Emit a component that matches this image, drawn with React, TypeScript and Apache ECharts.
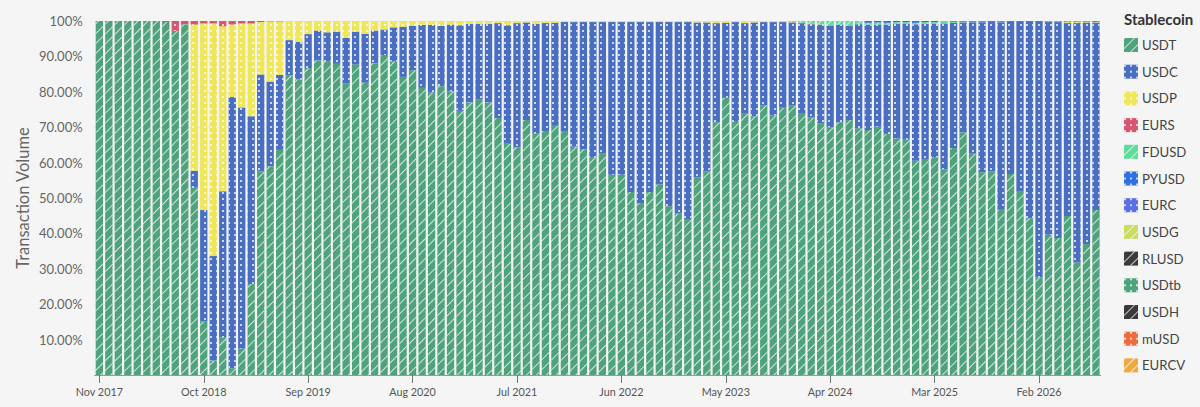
import React, { useEffect, useRef } from "react";
import * as echarts from "echarts";

const categories = [
  "Nov 2017","Dec 2017","Jan 2018","Feb 2018","Mar 2018","Apr 2018","May 2018","Jun 2018","Jul 2018","Aug 2018","Sep 2018",
  "Oct 2018","Nov 2018","Dec 2018","Jan 2019","Feb 2019","Mar 2019","Apr 2019","May 2019","Jun 2019","Jul 2019","Aug 2019",
  "Sep 2019","Oct 2019","Nov 2019","Dec 2019","Jan 2020","Feb 2020","Mar 2020","Apr 2020","May 2020","Jun 2020","Jul 2020",
  "Aug 2020","Sep 2020","Oct 2020","Nov 2020","Dec 2020","Jan 2021","Feb 2021","Mar 2021","Apr 2021","May 2021","Jun 2021",
  "Jul 2021","Aug 2021","Sep 2021","Oct 2021","Nov 2021","Dec 2021","Jan 2022","Feb 2022","Mar 2022","Apr 2022","May 2022",
  "Jun 2022","Jul 2022","Aug 2022","Sep 2022","Oct 2022","Nov 2022","Dec 2022","Jan 2023","Feb 2023","Mar 2023","Apr 2023",
  "May 2023","Jun 2023","Jul 2023","Aug 2023","Sep 2023","Oct 2023","Nov 2023","Dec 2023","Jan 2024","Feb 2024","Mar 2024",
  "Apr 2024","May 2024","Jun 2024","Jul 2024","Aug 2024","Sep 2024","Oct 2024","Nov 2024","Dec 2024","Jan 2025","Feb 2025",
  "Mar 2025","Apr 2025","May 2025","Jun 2025","Jul 2025","Aug 2025","Sep 2025","Oct 2025","Nov 2025","Dec 2025","Jan 2026",
  "Feb 2026","Mar 2026","Apr 2026","May 2026","Jun 2026","Jul 2026","Aug 2026",
].slice(0, 106);

const USDT = [
  100,100,100,100,100,100,100,99.7,97.2,99.1,52.9,
  15.1,4.1,10.6,1.9,7.5,25.7,57.5,59,63.6,84.6,83.5,
  86.7,88.9,88.5,87.9,82.3,87.7,82.6,88.1,90.4,88.6,84.2,
  86.1,81.1,79.8,81.6,80.1,74.6,77,77.8,77,72.6,65.3,
  64.3,72,68.2,68.9,70.4,68.7,64.5,63.8,61.4,62.5,56.6,
  56.6,51.7,48.6,51.7,53.8,47.7,45.6,44.1,55.8,57.5,71.4,
  78.3,71.5,73.8,73.1,76.2,73.4,75.5,76.1,74,72.7,71.1,
  70,71.4,72,69.7,69.2,70.1,68.1,66.8,66.5,60.5,60.8,
  61.5,58.1,64.1,68.6,62.5,57.3,57.5,46.7,56.8,51.8,44.3,
  27.6,39.6,38.7,44.9,31.8,37,46.6,
];
const USDC = [
  0,0,0,0,0,0,0,0,0,0,4.8,
  31.5,29.5,41.3,76.6,68.1,47.4,27.4,23.9,21.2,10,10.6,
  9.6,8.4,8.3,9.1,12.9,9.3,13.8,9.2,7.2,9.6,14.2,
  12.6,17.8,19.1,17,18.9,24.2,22.2,21.4,22.2,26.8,33.5,
  35.1,27.6,31,30.5,29.1,31,35.2,35.9,38.3,37.2,43.1,
  43.1,48,51.1,48,45.9,52,54.1,55.6,43.8,42.1,28,
  21.2,28.2,25.6,26.5,23.5,26.3,24.2,23.5,25.4,26.4,27.9,
  28.6,27.6,26.7,29.4,29.8,28.9,30.9,32.5,32.8,38.6,38.4,
  37.7,41.2,35.4,31,37.1,42.3,41.9,52.9,42.9,47.9,55.4,
  72.1,60.1,61,54.5,67.6,62.6,53,
];
const USDP = [
  0,0,0,0,0,0,0,0,0,0,41.3,
  52.7,65.7,46.6,20.5,23.7,26.2,14.8,17,15.1,5.4,5.9,
  3.7,2.7,3.2,3,4.8,3,3.6,2.7,2.4,1.8,1.6,
  1.3,1.1,1.1,1.4,1,1.2,0.8,0.8,0.8,0.6,1.2,
  0.6,0.4,0.8,0.6,0.5,0.3,0.3,0.3,0.3,0.3,0.3,
  0.3,0.3,0.3,0.3,0.3,0.3,0.3,0.3,0.4,0.4,0.6,
  0.5,0.3,0.6,0.4,0.3,0.3,0.2,0.1,0.1,0.1,0.1,
];
const EURS = [0,0,0,0,0,0,0,0.3,2.8,0.9,1,0.7,0.7,1.5,1,0.7,0.7,0.3,0.1,0.1];
const FDUSD = [0.1,0.3,0.5,0.8,0.9,1.4,1,1.3,0.9,0.5,0.6,0.5,0.4,0.4,0.4,0.5,0.5,0.7,0.3,0.1];
const FDUSD_START = 72;
const PYUSD = [0.5,0.4,0.5,0.3,0.3,0.5,0.3,0.3,0,0.2,0.1,0.2,0.2,0,0.2];
const PYUSD_START = 81;
const EURC = [0.2,0.2,0.2,0.6,0.2,0.3,0.3,0.3,0.3];
const EURC_START = 91;
const USDG = [0.2,0.2,0.5,0.5,0.2,0.2];
const USDG_START = 100;
const RLUSD = [0.1,0.1,0.1,0.1,0.1,0.1];
const RLUSD_START = 100;
const USDtb = [0.1];
const USDtb_START = 104;
const USDH = [0.1];
const USDH_START = 105;
const mUSD: number[] = [];
const EURCV: number[] = [];

const from = (start: number, vals: number[]) => [...Array(start).fill(0), ...vals];

const HATCH = {
  symbol: "rect",
  symbolSize: 1,
  rotation: -Math.PI / 4,
  dashArrayX: [1, 0],
  dashArrayY: [1, 6],
  color: "rgba(255,255,255,0.72)",
};
const DOTS = {
  symbol: "rect",
  symbolSize: 1,
  rotation: 0,
  dashArrayX: [1.2, 3.5],
  dashArrayY: [1.2, 3.5],
  color: "rgba(255,255,255,0.72)",
};

const defs: [string, number[], string, any][] = [
  ["USDT", USDT, "#4fa37c", HATCH],
  ["USDC", USDC, "#4a6fc2", DOTS],
  ["USDP", USDP, "#f0e65a", DOTS],
  ["EURS", EURS, "#d6566e", DOTS],
  ["FDUSD", from(FDUSD_START, FDUSD), "#5fdc99", HATCH],
  ["PYUSD", from(PYUSD_START, PYUSD), "#2f6fe0", DOTS],
  ["EURC", from(EURC_START, EURC), "#5a6fe6", DOTS],
  ["USDG", from(USDG_START, USDG), "#cbdc62", HATCH],
  ["RLUSD", from(RLUSD_START, RLUSD), "#3a3a3a", HATCH],
  ["USDtb", from(USDtb_START, USDtb), "#4fa37c", DOTS],
  ["USDH", from(USDH_START, USDH), "#3a3a3a", HATCH],
  ["mUSD", mUSD, "#ef6a3c", DOTS],
  ["EURCV", EURCV, "#f0a93c", HATCH],
];

export default function App() {
  const ref = useRef<HTMLDivElement>(null);
  useEffect(() => {
    document.body.style.margin = "0";
    document.body.style.background = "#f5f5f5";
    const chart = echarts.init(ref.current!, undefined, { renderer: "svg" });
    chart.setOption({
      animation: false,
      backgroundColor: "#f5f5f5",
      textStyle: { fontFamily: "Lato" },
      title: {
        text: "Stablecoin",
        left: 1119,
        top: 6,
        textStyle: { fontFamily: "Lato", fontSize: 15, fontWeight: "bold", color: "#333" },
      },
      legend: {
        orient: "vertical",
        left: 1119,
        top: 33,
        itemWidth: 14,
        itemHeight: 14,
        itemGap: 12.7,
        selectedMode: false,
        icon: "rect",
        textStyle: { fontFamily: "Lato", fontSize: 13.2, color: "#444", padding: [0, 0, 0, -1] },
        data: defs.map((d) => d[0]),
      },
      grid: { left: 94.6, right: 99.3, top: 21, height: 354 },
      xAxis: {
        type: "category",
        data: categories,
        axisLine: { show: true, lineStyle: { color: "#999", width: 1 } },
        axisTick: { show: true, alignWithLabel: true, interval: 10, length: 8, lineStyle: { color: "#777" } },
        axisLabel: { interval: 10, color: "#555", fontSize: 10.8, margin: 10.5, fontFamily: "Lato" },
      },
      yAxis: {
        type: "value",
        min: 0,
        max: 100,
        interval: 10,
        name: "Transaction Volume",
        nameLocation: "middle",
        nameGap: 63,
        nameMoveOverlap: false,
        nameTextStyle: { fontFamily: "Lato", fontSize: 16.5, color: "#666", padding: [0, 0, 0, 0] },
        axisLine: { show: false },
        axisTick: { show: false },
        splitLine: { show: true, lineStyle: { color: "#e6e6e6" } },
        axisLabel: {
          color: "#666",
          fontSize: 13,
          margin: 12,
          padding: [0, 0, 2, 0],
          fontFamily: "Lato",
          formatter: (v: number) => (v === 0 ? "" : v === 100 ? "100%" : v.toFixed(2) + "%"),
        },
      },
      series: defs.map(([name, data, color, decal]) => ({
        name,
        type: "bar",
        stack: "total",
        data,
        barCategoryGap: "23%",
        itemStyle: { color, decal },
      })),
    });
    return () => chart.dispose();
  }, []);
  return <div ref={ref} style={{ width: 1200, height: 407 }} />;
}
